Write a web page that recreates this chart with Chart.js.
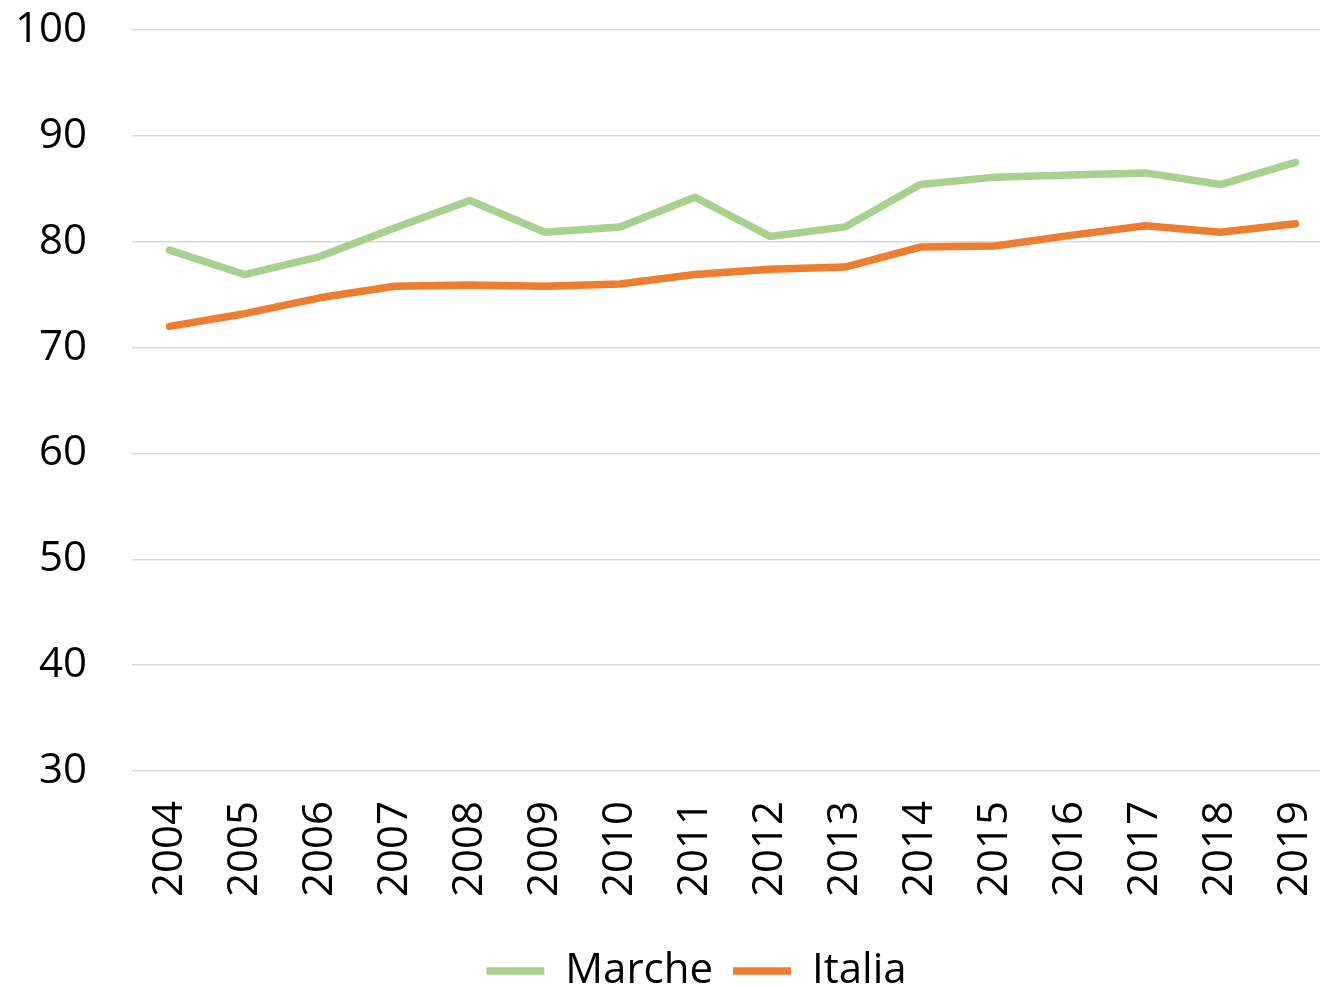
<!DOCTYPE html>
<html>
<head>
<meta charset="utf-8">
<script src="https://cdn.jsdelivr.net/npm/chart.js@4/dist/chart.umd.min.js"></script>
<style>
  html, body { margin: 0; padding: 0; background: #fff; overflow: hidden; }
  canvas { display: block; }
</style>
</head>
<body>
<canvas id="chart" width="1333" height="1002"></canvas>
<script>
// Data
const years = ['2004', '2005', '2006', '2007', '2008', '2009', '2010', '2011',
               '2012', '2013', '2014', '2015', '2016', '2017', '2018', '2019'];
const marche = [79.2, 76.9, 78.6, 81.3, 83.9, 80.9, 81.4, 84.2,
                80.5, 81.4, 85.4, 86.1, 86.3, 86.5, 85.4, 87.5];
const italia = [72.0, 73.2, 74.7, 75.8, 75.9, 75.8, 76.0, 76.9,
                77.4, 77.6, 79.5, 79.6, 80.6, 81.5, 80.9, 81.7];
const yTicks = [30, 40, 50, 60, 70, 80, 90, 100];

const FONT = "'Open Sans', sans-serif";
const LEGEND_SHIFT = 30;

// nudge the legend so it sits where the original one does
const legendShift = {
    id: 'legendShift',
    afterLayout(chart) {
        if (chart.legend) {
            chart.legend.left += LEGEND_SHIFT;
            chart.legend.right += LEGEND_SHIFT;
        }
    }
};

const lineStyle = (color) => ({
    borderColor: color,
    backgroundColor: color,
    borderWidth: 7.5,
    borderCapStyle: 'round',
    borderJoinStyle: 'round',
    pointRadius: 0,
    tension: 0,
    fill: false
});

new Chart(document.getElementById('chart').getContext('2d'), {
    type: 'line',
    data: {
        labels: years,
        datasets: [
            { label: 'Marche', data: marche, ...lineStyle('#A9D18E') },
            { label: 'Italia', data: italia, ...lineStyle('#ED7D31') }
        ]
    },
    options: {
        responsive: false,
        animation: false,
        layout: { padding: 0 },
        scales: {
            x: {
                offset: true,
                grid: { display: false, drawTicks: false },
                border: { display: false },
                ticks: {
                    color: '#000',
                    font: { family: FONT, size: 42 },
                    minRotation: 90,
                    maxRotation: 90,
                    padding: 30,
                    autoSkip: false
                },
                afterFit: (scale) => {
                    scale.height = 159;
                    scale.paddingLeft = 0;
                    scale.paddingRight = 0;
                }
            },
            y: {
                min: 30,
                max: 100,
                afterBuildTicks: (scale) => { scale.ticks = yTicks.map(v => ({ value: v })); },
                grid: { color: '#D9D9D9', lineWidth: 1.5, drawTicks: false },
                border: { display: false },
                ticks: {
                    color: '#000',
                    font: { family: FONT, size: 42 },
                    padding: 45
                },
                afterFit: (scale) => {
                    scale.width = 132;
                    scale.paddingTop = 30;
                    scale.paddingBottom = 0;
                }
            }
        },
        plugins: {
            legend: {
                position: 'bottom',
                labels: {
                    color: '#000',
                    font: { family: FONT, size: 42 },
                    usePointStyle: true,
                    pointStyle: 'line',
                    pointStyleWidth: 58,
                    padding: 20
                }
            },
            tooltip: { enabled: false }
        }
    },
    plugins: [legendShift]
});
</script>
</body>
</html>
